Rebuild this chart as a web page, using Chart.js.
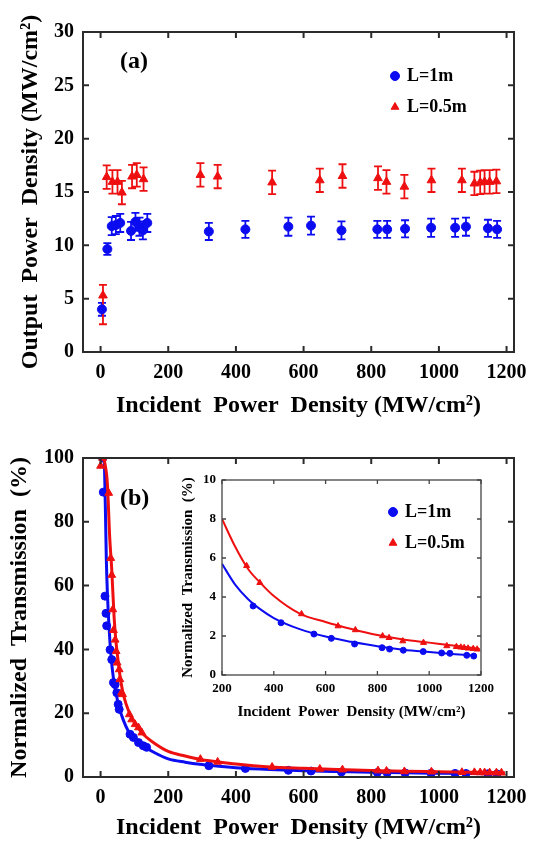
<!DOCTYPE html>
<html>
<head>
<meta charset="utf-8">
<script src="https://cdn.jsdelivr.net/npm/chart.js@4.4.1/dist/chart.umd.min.js"></script>
<style>
  html, body { margin: 0; padding: 0; background: #fff; }
  #wrap { position: relative; width: 536px; height: 848px; }
  canvas { position: absolute; }
</style>
</head>
<body>
<div id="wrap">
  <canvas id="chartA" width="536" height="420" style="left:0;top:0;width:536px;height:420px"></canvas>
  <canvas id="chartB" width="536" height="428" style="left:0;top:420px;width:536px;height:428px"></canvas>
  <canvas id="inset" width="330" height="265" style="left:170px;top:465px;width:330px;height:265px"></canvas>
</div>
<script>
const BLUE = "rgb(12,12,240)";
const RED = "rgb(238,16,16)";
const SERIF = "'Liberation Serif', 'Times New Roman', serif";

// ---- panel (a): output vs incident power density ----
const incidentA1 = [4, 20, 33, 45, 58, 90, 103, 115, 125, 138, 320, 428, 555, 622, 712, 818, 847, 900, 977, 1048, 1080, 1145, 1172];
const outputA1 = [4.0, 9.65, 11.8, 11.9, 12.1, 11.35, 12.2, 11.75, 11.4, 12.1, 11.3, 11.5, 11.75, 11.85, 11.4, 11.5, 11.5, 11.55, 11.65, 11.65, 11.75, 11.6, 11.5];
const errA1 = [0.6, 0.55, 0.85, 0.85, 0.85, 0.85, 0.85, 0.85, 0.85, 0.85, 0.8, 0.8, 0.85, 0.85, 0.85, 0.8, 0.8, 0.8, 0.85, 0.85, 0.85, 0.8, 0.8];

const incidentA05 = [7, 18, 35, 50, 63, 93, 107, 127, 295, 346, 507, 648, 715, 820, 845, 898, 978, 1068, 1105, 1122, 1135, 1150, 1170];
const outputA05 = [5.3, 16.4, 15.95, 15.95, 14.95, 16.45, 16.6, 16.2, 16.6, 16.45, 15.9, 16.1, 16.5, 16.3, 15.95, 15.5, 16.1, 16.1, 15.8, 15.9, 15.95, 15.95, 16.0];
const errA05Low = [2.7, 1.1, 1.1, 1.1, 1.1, 1.1, 1.1, 1.1, 1.1, 1.1, 1.1, 1.1, 1.1, 1.1, 1.1, 1.1, 1.1, 1.1, 1.1, 1.1, 1.1, 1.1, 1.1];
const errA05High = [1.0, 1.1, 1.1, 1.1, 1.1, 1.1, 1.1, 1.1, 1.1, 1.1, 1.1, 1.1, 1.1, 1.1, 1.1, 1.1, 1.1, 1.1, 1.1, 1.1, 1.1, 1.1, 1.1];

// ---- panel (b): normalized transmission ----
const transX1 = [6, 8, 13, 16, 18, 28, 33, 38, 43, 48, 52, 55, 87, 97, 112, 126, 136, 320, 428, 555, 622, 712, 818, 847, 900, 977, 1048, 1080, 1145, 1172];
const transY1 = [100, 89.3, 56.7, 51.3, 47.4, 39.9, 36.8, 29.6, 29, 26.4, 22.8, 21.2, 13.4, 12.4, 10.8, 9.8, 9.3, 3.54, 2.68, 2.1, 1.88, 1.59, 1.4, 1.33, 1.27, 1.2, 1.13, 1.11, 1.01, 0.97];
const transX05 = [0, 6, 24, 30, 33, 36, 38, 43, 46, 49, 55, 57, 62, 65, 85, 92, 102, 112, 122, 295, 346, 507, 648, 715, 820, 845, 898, 978, 1068, 1105, 1122, 1135, 1150, 1170, 1185];
const transY05 = [97.5, 100, 89, 68.6, 63.3, 52.5, 46, 43, 39.4, 35.8, 33.7, 30.6, 26.4, 25.9, 19.6, 18, 16.5, 15.5, 13.9, 5.6, 4.73, 3.13, 2.51, 2.31, 2.0, 1.91, 1.74, 1.66, 1.49, 1.45, 1.42, 1.4, 1.37, 1.35, 1.32];

// fitted curves
const fitX1 = [11, 14, 17, 20, 25, 30, 35, 40, 50, 60, 90, 100, 130, 160, 200, 250, 300, 350, 400, 500, 600, 700, 800, 900, 1000, 1100, 1172];
const fitY1 = [100, 85, 68, 58, 47, 39, 33.5, 29.5, 24, 20, 12.9, 12.0, 9.5, 7.6, 5.7, 4.65, 3.9, 3.35, 2.92, 2.35, 1.97, 1.7, 1.47, 1.3, 1.18, 1.07, 1.0];
const fitX05 = [10, 20, 27, 33, 40, 45, 50, 57, 65, 75, 90, 110, 130, 160, 200, 250, 300, 350, 400, 500, 600, 700, 800, 900, 1000, 1100, 1195];
const fitY05 = [100, 92, 75, 65, 50, 43, 38, 32, 27, 23, 19, 15.5, 13, 10.5, 8.0, 6.6, 5.45, 4.7, 4.05, 3.15, 2.72, 2.36, 2.05, 1.82, 1.66, 1.5, 1.34];

// tick values
const xTicksMain = [0, 200, 400, 600, 800, 1000, 1200];
const yTicksA = [0, 5, 10, 15, 20, 25, 30];
const yTicksB = [0, 20, 40, 60, 80, 100];
const xTicksInset = [200, 400, 600, 800, 1000, 1200];
const yTicksInset = [0, 2, 4, 6, 8, 10];

const pts = (xs, ys) => xs.map((x, i) => ({ x: x, y: ys[i] }));
const from200 = (xs, ys) => pts(xs, ys).filter((p) => p.x >= 200);

// error bars drawn under the markers
const errorBars = {
  id: "errorBars",
  beforeDatasetsDraw(chart) {
    const { ctx, scales: { x, y } } = chart;
    chart.data.datasets.forEach((ds) => {
      if (!ds.errLow) return;
      ctx.save();
      ctx.strokeStyle = ds.borderColor;
      ctx.lineWidth = 1.8;
      ctx.beginPath();
      ds.data.forEach((p, j) => {
        const px = x.getPixelForValue(p.x);
        const top = y.getPixelForValue(p.y + ds.errHigh[j]);
        const bot = y.getPixelForValue(p.y - ds.errLow[j]);
        ctx.moveTo(px, top); ctx.lineTo(px, bot);
        ctx.moveTo(px - 4, top); ctx.lineTo(px + 4, top);
        ctx.moveTo(px - 4, bot); ctx.lineTo(px + 4, bot);
      });
      ctx.stroke();
      ctx.restore();
    });
  },
};

// box frame with inward ticks, panel tag and legend
const decor = {
  id: "decor",
  afterDraw(chart, args, opts) {
    const { ctx, chartArea: a, scales: { x, y } } = chart;
    ctx.save();
    ctx.strokeStyle = opts.color;
    ctx.lineWidth = opts.width;
    ctx.strokeRect(a.left, a.top, a.right - a.left, a.bottom - a.top);
    ctx.beginPath();
    x.ticks.forEach((t) => {
      const px = x.getPixelForValue(t.value);
      ctx.moveTo(px, a.bottom); ctx.lineTo(px, a.bottom - opts.tick);
      ctx.moveTo(px, a.top); ctx.lineTo(px, a.top + opts.tick);
    });
    y.ticks.forEach((t) => {
      const py = y.getPixelForValue(t.value);
      ctx.moveTo(a.left, py); ctx.lineTo(a.left + opts.tick, py);
      ctx.moveTo(a.right, py); ctx.lineTo(a.right - opts.tick, py);
    });
    ctx.stroke();
    ctx.fillStyle = "#000";
    if (opts.tag) {
      ctx.font = "bold 24px " + SERIF;
      ctx.textBaseline = "middle";
      ctx.fillText(opts.tag.text, opts.tag.x, opts.tag.y);
    }
    if (opts.legend) {
      const L = opts.legend;
      chart.data.datasets.filter((d) => d.inLegend).forEach((d, i) => {
        const yy = L.y + i * L.gap;
        ctx.fillStyle = d.backgroundColor;
        ctx.strokeStyle = d.borderColor;
        ctx.lineWidth = 1;
        Chart.helpers.drawPoint(ctx, { pointStyle: d.pointStyle, radius: L.radius, rotation: 0, borderWidth: 1 }, L.x, yy);
        ctx.fillStyle = "#000";
        ctx.font = "bold 18px " + SERIF;
        ctx.textBaseline = "middle";
        ctx.textAlign = "left";
        ctx.fillText(d.label, L.x + L.textGap, yy);
      });
    }
    ctx.restore();
  },
};

function axis(c) {
  return {
    type: "linear",
    min: c.min,
    max: c.max,
    afterBuildTicks: (s) => { s.ticks = c.ticks.map((v) => ({ value: v })); },
    afterFit: (s) => { if (c.horizontal) s.height = c.size; else s.width = c.size; },
    grid: { display: false, drawTicks: false },
    border: { display: false },
    ticks: {
      color: "#000",
      font: { family: SERIF, size: c.font, weight: "bold" },
      padding: c.pad,
      maxRotation: 0,
      autoSkip: false,
      callback: (v) => String(v),
    },
    title: {
      display: true,
      text: c.title,
      color: "#000",
      font: { family: SERIF, size: c.titleSize, weight: "bold" },
      padding: c.horizontal ? { top: 0, bottom: c.titlePad } : { top: c.titlePad, bottom: 0 },
    },
  };
}

const xTitle = "Incident  Power  Density (MW/cm\u00B2)";

// panel (a)
new Chart(document.getElementById("chartA"), {
  type: "scatter",
  data: {
    datasets: [
      { label: "L=1m", data: pts(incidentA1, outputA1), errLow: errA1, errHigh: errA1, inLegend: true,
        pointStyle: "circle", pointRadius: 4.5, backgroundColor: BLUE, borderColor: BLUE, borderWidth: 1, order: 0 },
      { label: "L=0.5m", data: pts(incidentA05, outputA05), errLow: errA05Low, errHigh: errA05High, inLegend: true,
        pointStyle: "triangle", pointRadius: 5, backgroundColor: RED, borderColor: RED, borderWidth: 1, order: 1 },
    ],
  },
  options: {
    responsive: false,
    animation: false,
    layout: { padding: { left: 0, right: 22, top: 32, bottom: 0 } },
    plugins: {
      legend: { display: false },
      tooltip: { enabled: false },
      decor: { color: "#2b2b2b", width: 2, tick: 6, tag: { text: "(a)", x: 120, y: 62 },
        legend: { x: 395, y: 76, gap: 31, radius: 4.5, textGap: 12 } },
    },
    scales: {
      x: axis({ horizontal: true, min: -52, max: 1222, ticks: xTicksMain, size: 68, font: 20, pad: 9,
        title: xTitle, titleSize: 24, titlePad: 0 }),
      y: axis({ min: 0, max: 30, ticks: yTicksA, size: 83, font: 20, pad: 9,
        title: "Output  Power  Density (MW/cm\u00B2)", titleSize: 24, titlePad: 16 }),
    },
  },
  plugins: [errorBars, decor],
});

// panel (b)
new Chart(document.getElementById("chartB"), {
  type: "scatter",
  data: {
    datasets: [
      { label: "L=1m fit", data: pts(fitX1, fitY1), showLine: true, pointRadius: 0, borderColor: BLUE,
        borderWidth: 3, cubicInterpolationMode: "monotone", order: 2 },
      { label: "L=0.5m fit", data: pts(fitX05, fitY05), showLine: true, pointRadius: 0, borderColor: RED,
        borderWidth: 3, cubicInterpolationMode: "monotone", order: 1 },
      { label: "L=1m", data: pts(transX1, transY1), pointStyle: "circle", pointRadius: 4,
        backgroundColor: BLUE, borderColor: BLUE, order: 3 },
      { label: "L=0.5m", data: pts(transX05, transY05), pointStyle: "triangle", pointRadius: 4.5,
        backgroundColor: RED, borderColor: RED, order: 0 },
    ],
  },
  options: {
    responsive: false,
    animation: false,
    layout: { padding: { left: 0, right: 22, top: 38, bottom: 0 } },
    plugins: {
      legend: { display: false },
      tooltip: { enabled: false },
      decor: { color: "#2b2b2b", width: 2, tick: 6, tag: { text: "(b)", x: 120, y: 79 } },
    },
    scales: {
      x: axis({ horizontal: true, min: -52, max: 1222, ticks: xTicksMain, size: 71, font: 20, pad: 9,
        title: xTitle, titleSize: 24, titlePad: 6 }),
      y: axis({ min: 0, max: 100, ticks: yTicksB, size: 83, font: 20, pad: 9,
        title: "Normalized  Transmission  (%)", titleSize: 24, titlePad: 5 }),
    },
  },
  plugins: [decor],
});

// inset of panel (b)
new Chart(document.getElementById("inset"), {
  type: "scatter",
  data: {
    datasets: [
      { label: "L=1m fit", data: from200(fitX1, fitY1), showLine: true, pointRadius: 0, borderColor: BLUE,
        borderWidth: 2, cubicInterpolationMode: "monotone", order: 2 },
      { label: "L=0.5m fit", data: from200(fitX05, fitY05), showLine: true, pointRadius: 0, borderColor: RED,
        borderWidth: 2, cubicInterpolationMode: "monotone", order: 1 },
      { label: "L=1m", data: from200(transX1, transY1), inLegend: true, pointStyle: "circle", pointRadius: 3,
        backgroundColor: BLUE, borderColor: BLUE, order: 3 },
      { label: "L=0.5m", data: from200(transX05, transY05), inLegend: true, pointStyle: "triangle", pointRadius: 3.5,
        backgroundColor: RED, borderColor: RED, order: 0 },
    ],
  },
  options: {
    responsive: false,
    animation: false,
    layout: { padding: { left: 0, right: 13, top: 15, bottom: 0 } },
    plugins: {
      legend: { display: false },
      tooltip: { enabled: false },
      decor: { color: "#444", width: 1.3, tick: 4,
        legend: { x: 223, y: 47, gap: 31, radius: 4.5, textGap: 12 } },
    },
    scales: {
      x: axis({ horizontal: true, min: 200, max: 1200, ticks: xTicksInset, size: 55, font: 13, pad: 6,
        title: xTitle, titleSize: 15, titlePad: 9 }),
      y: axis({ min: 0, max: 10, ticks: yTicksInset, size: 52, font: 13, pad: 6,
        title: "Normalized  Transmission  (%)", titleSize: 15, titlePad: 9 }),
    },
  },
  plugins: [decor],
});
</script>
</body>
</html>
